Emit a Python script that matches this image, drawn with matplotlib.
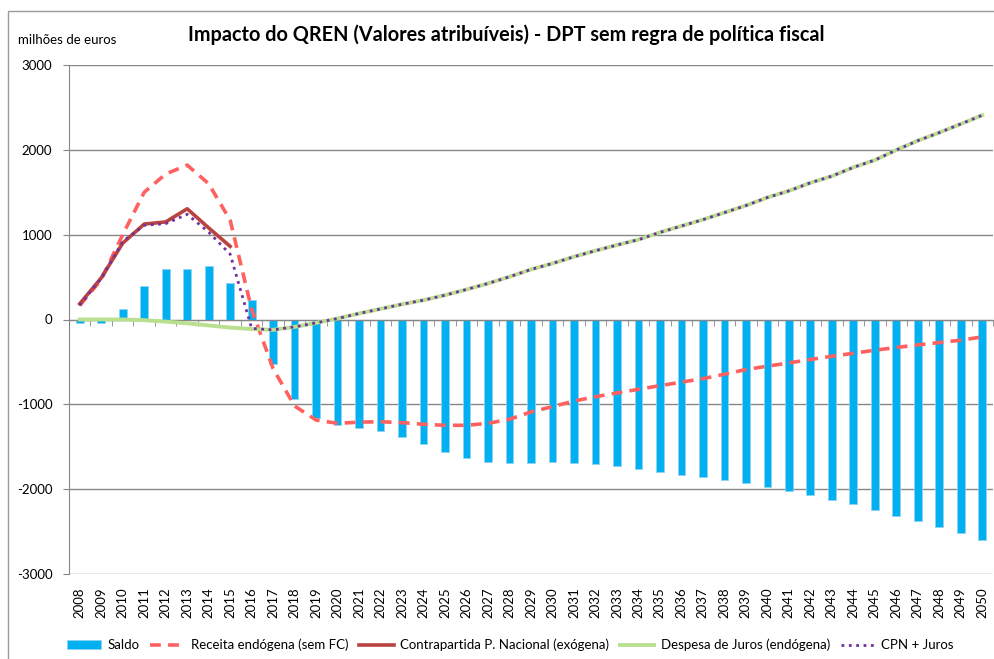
import matplotlib
matplotlib.use("Agg")
import matplotlib.pyplot as plt
import matplotlib.patches as mpatches
import matplotlib.transforms as mtransforms
import numpy as np

plt.rcParams["font.family"] = ["Lato", "DejaVu Sans"]

# data (milhões de euros)
anos = list(range(2008, 2051))

saldo = [-40, -40, 122, 400, 596, 596, 632, 428, 231, -530,
         -940, -1157, -1243, -1278, -1314, -1384, -1470, -1557, -1627, -1678,
         -1690, -1690, -1678, -1690, -1700, -1722, -1757, -1796, -1831, -1855,
         -1894, -1925, -1973, -2023, -2071, -2129, -2180, -2251, -2314, -2373,
         -2447, -2518, -2600]

receita = [165, 470, 1000, 1500, 1715, 1820, 1600, 1170, 120, -580,
           -1020, -1185, -1224, -1210, -1205, -1216, -1235, -1247, -1247, -1224,
           -1176, -1090, -1027, -961, -910, -866, -823, -780, -738, -697,
           -645, -590, -550, -512, -472, -433, -398, -362, -330, -299,
           -272, -244, -205]

contrapartida = [185, 490, 900, 1125, 1150, 1305, 1080, 862]

juros = [0, 0, 0, -8, -25, -45, -70, -95, -112, -122,
         -87, -40, 12, 71, 125, 180, 228, 287, 354, 425,
         504, 590, 661, 740, 811, 878, 941, 1027, 1102, 1177,
         1260, 1343, 1438, 1516, 1611, 1690, 1793, 1879, 1998, 2108,
         2203, 2305, 2408]

cpn_juros = [170, 485, 920, 1110, 1130, 1240, 1030, 770, -105, -122,
             -87, -40, 12, 71, 125, 180, 228, 287, 354, 425,
             504, 590, 661, 740, 811, 878, 941, 1027, 1102, 1177,
             1260, 1343, 1438, 1516, 1611, 1690, 1793, 1879, 1998, 2108,
             2203, 2305, 2408]

y_ticks = [3000, 2000, 1000, 0, -1000, -2000, -3000]

W, H = 995, 659
fig = plt.figure(figsize=(W / 100, H / 100), dpi=100)
ax = fig.add_axes([69 / W, 1 - 574 / H, (993 - 69) / W, (574 - 65) / H])

x = np.arange(len(anos))
grey = "#868686"

# gridlines
for v in y_ticks:
    ax.axhline(v, color=grey, lw=1.0, zorder=1)

bars = ax.bar(x, saldo, width=0.36, color="#00B0F0", edgecolor="#8fd3f3", lw=0.6,
              zorder=2, label="Saldo")
l1, = ax.plot(x, receita, color="#FF6161", lw=2.6, dashes=(3.0, 2.0), zorder=3,
              label="Receita endógena (sem FC)")
l2, = ax.plot(x[:len(contrapartida)], contrapartida, color="#B8433F", lw=2.6,
              zorder=4, label="Contrapartida P. Nacional (exógena)")
l3, = ax.plot(x, juros, color="#B9E08F", lw=2.8, zorder=5,
              label="Despesa de Juros (endógena)")
l4, = ax.plot(x, cpn_juros, color="#7030A0", lw=2.0, ls=":", zorder=6,
              label="CPN + Juros")

ax.set_xlim(-0.5, len(anos) - 0.5)
ax.set_ylim(-3000, 3000)
ax.set_yticks(y_ticks)
ax.set_yticklabels([str(v) for v in y_ticks], fontsize=9.5)
ax.tick_params(axis="y", direction="out", length=4, color=grey, pad=8)

# category axis sits on the zero line
ax.spines["top"].set_visible(False)
ax.spines["right"].set_visible(False)
ax.spines["left"].set_color(grey)
ax.spines["bottom"].set_position(("data", 0))
ax.spines["bottom"].set_color(grey)
ax.set_xticks(x)
ax.set_xticklabels([])
ax.tick_params(axis="x", which="major", length=0)
ax.set_xticks(np.arange(-0.5, len(anos)), minor=True)
ax.tick_params(axis="x", which="minor", direction="out", length=4, color=grey)

# year labels under the plot
trans = mtransforms.blended_transform_factory(ax.transData, ax.transAxes)
for i, a in enumerate(anos):
    ax.text(i, -0.027, str(a), rotation=90, ha="center", va="top",
            fontsize=9.5, transform=trans)

fig.text(188 / W, 1 - 35 / H, "Impacto do QREN (Valores atribuíveis) - DPT sem regra de política fiscal",
         fontsize=14.3, fontweight="bold", ha="left", va="center")
fig.text(18 / W, 1 - 40 / H, "milhões de euros", fontsize=9.5, ha="left", va="center")

# outer chart frame
fig.patches.append(mpatches.Rectangle((8 / W, -0.1), 1.2, 1 - 11 / H + 0.1,
                                      transform=fig.transFigure, fill=False,
                                      edgecolor="#9a9a9a", lw=1.0))

fig.legend([bars, l1, l2, l3, l4],
           [bars.get_label(), l1.get_label(), l2.get_label(), l3.get_label(), l4.get_label()],
           loc="center", bbox_to_anchor=(0.513, 1 - 645 / H),
           ncol=5, frameon=False, fontsize=9.5, handlelength=2.6,
           handleheight=0.6, handletextpad=0.5, columnspacing=0.8)

fig.savefig("out.png", dpi=100)
